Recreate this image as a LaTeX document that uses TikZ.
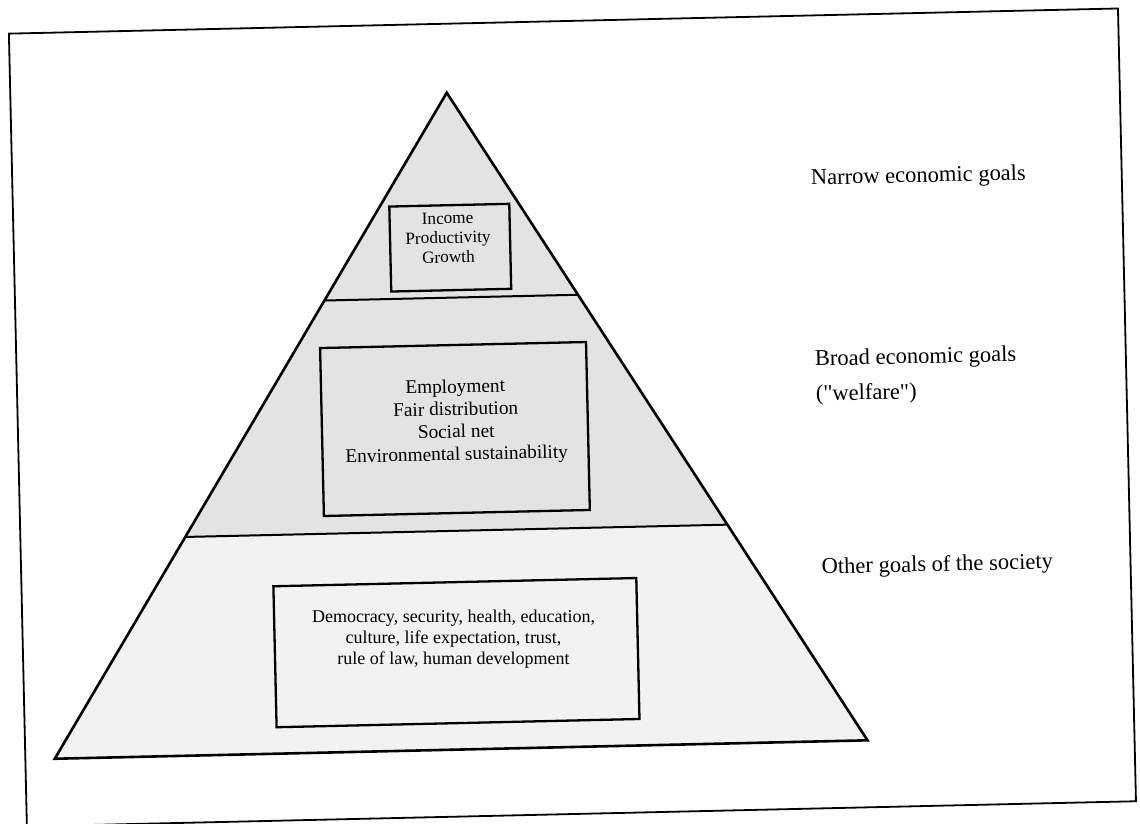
\documentclass[tikz,border=0pt]{standalone}
\usepackage{fontspec}
\setmainfont{Liberation Serif}
\newfontfamily\plainserif{Liberation Serif}
\usetikzlibrary{calc}
\begin{document}
\begin{tikzpicture}[x=1pt,y=-1pt,
  frameline/.style={line width=1.8pt},
  pyredge/.style={line width=2.6pt, line join=miter},
  divider/.style={line width=2pt},
  goalbox/.style={draw, line width=2.3pt, inner sep=0pt},
  boxtext/.style={align=center, inner sep=0pt},
  sidelabel/.style={anchor=west, inner sep=0pt, font=\plainserif\fontsize{22.5}{27}\selectfont},
  upperfill/.style={fill=black!11},
  lowerfill/.style={fill=black!5}]
\useasboundingbox (0,0) rectangle (1140,824);
\begin{scope}[rotate around={1.3:(570,412)}, transform shape]
  % outer frame
  \draw[frameline] (17.6,21) rectangle (1127,814);
  % pyramid
  \coordinate (apex) at (454,90);
  \coordinate (bl) at (47,747);
  \coordinate (br) at (860,747);
  \coordinate (l1) at ($(apex)!0.312!(bl)$);
  \coordinate (r1) at ($(apex)!0.312!(br)$);
  \coordinate (l2) at ($(apex)!0.667!(bl)$);
  \coordinate (r2) at ($(apex)!0.667!(br)$);
  \fill[upperfill] (apex) -- (l2) -- (r2) -- cycle;
  \fill[lowerfill] (l2) -- (bl) -- (br) -- (r2) -- cycle;
  \draw[divider] (l1) -- (r1);
  \draw[divider] (l2) -- (r2);
  \draw[pyredge] (apex) -- (bl) -- (br) -- cycle;
  % boxes
  \node[goalbox, minimum width=120pt, minimum height=85pt] (narrowbox) at (454,245) {};
  \node[boxtext, font=\fontsize{17.2}{19.5}\selectfont] (narrowtext) at (452,235) {Income\\Productivity\\Growth};
  \node[goalbox, minimum width=266pt, minimum height=168pt] (broadbox) at (454.6,426.4) {};
  \node[boxtext, font=\fontsize{19.3}{22.5}\selectfont] (broadtext) at (455.8,419.4) {Employment\\Fair distribution\\Social net\\Environmental sustainability};
  \node[goalbox, minimum width=363pt, minimum height=141pt] (otherbox) at (451,650) {};
  \node[boxtext, rotate=-1.3, font=\fontsize{18}{21}\selectfont] (othertext) at (448.4,636) {Democracy, security, health, education,\\culture, life expectation, trust,\\rule of law, human development};
  % side labels
  \node[sidelabel] (narrowlabel) at (816,185) {Narrow economic goals};
  \node[sidelabel] (broadlabel) at (816,366) {Broad economic goals};
  \node[sidelabel] (welfarelabel) at (816,401) {("welfare")};
  \node[sidelabel] (otherlabel) at (818,574) {Other goals of the society};
\end{scope}
\end{tikzpicture}
\end{document}
